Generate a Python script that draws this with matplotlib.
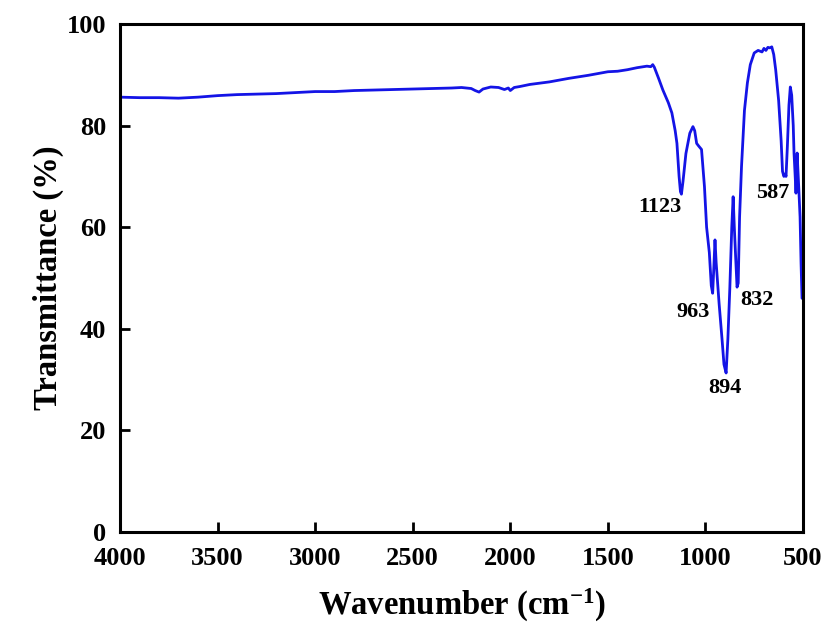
import matplotlib
matplotlib.use("Agg")
import matplotlib.pyplot as plt

plt.rcParams['font.family'] = ['Liberation Serif', 'DejaVu Serif']
plt.rcParams['font.weight'] = 'bold'
plt.rcParams['mathtext.fontset'] = 'custom'
plt.rcParams['mathtext.rm'] = 'Liberation Serif:bold'
plt.rcParams['mathtext.it'] = 'Liberation Serif:bold'
plt.rcParams['mathtext.bf'] = 'Liberation Serif:bold'

wavenumber = [4000, 3900, 3800, 3700, 3600, 3500, 3400, 3300, 3200, 3100, 3000, 2900, 2800, 2700,
              2600, 2500, 2400, 2300, 2250, 2200, 2180, 2160, 2140, 2100, 2060, 2030, 2010, 2000,
              1980, 1950, 1900, 1800, 1700, 1600, 1500, 1450, 1400, 1350, 1300, 1280, 1270, 1262,
              1240, 1218, 1190, 1172, 1155, 1146, 1135, 1128, 1123, 1115, 1100, 1080, 1064, 1055,
              1045, 1035, 1020, 1005, 994, 980, 970, 963, 957, 951, 945, 930, 915, 905, 894, 885,
              875, 865, 858, 852, 845, 838, 832, 825, 815, 800, 785, 770, 750, 730, 710, 700, 690,
              680, 670, 660, 650, 640, 625, 612, 605, 598, 590, 587, 580, 572, 565, 558, 550, 546,
              540, 536, 533, 530, 527, 522, 515, 510, 505, 502]
transmittance = [85.6, 85.5, 85.5, 85.4, 85.6, 85.9, 86.1, 86.2, 86.3, 86.5, 86.7, 86.7, 86.9, 87.0,
                 87.1, 87.2, 87.3, 87.4, 87.5, 87.3, 86.9, 86.6, 87.2, 87.6, 87.5, 87.1, 87.4, 86.9,
                 87.5, 87.7, 88.1, 88.6, 89.3, 89.9, 90.6, 90.7, 91.0, 91.4, 91.7, 91.6, 92.0, 91.5,
                 89.3, 87.0, 84.5, 82.5, 79.0, 76.5, 70.0, 67.0, 66.5, 69.0, 74.5, 78.5, 79.8, 79.0,
                 76.5, 76.0, 75.3, 68.0, 60.0, 55.0, 48.5, 47.0, 52.0, 57.5, 53.0, 45.0, 38.0, 33.0,
                 31.3, 38.0, 48.0, 60.0, 66.0, 60.0, 54.0, 48.2, 49.0, 62.0, 72.0, 83.0, 88.4, 92.0,
                 94.3, 94.8, 94.5, 95.2, 94.8, 95.4, 95.3, 95.5, 94.0, 91.0, 85.0, 77.0, 71.0, 70.0,
                 70.5, 70.0, 76.0, 84.0, 87.6, 86.0, 80.0, 74.6, 70.0, 66.7, 70.0, 74.6, 72.0, 68.0,
                 62.0, 53.0, 46.0, 46.0]

peak_labels = ["1123", "963", "894", "832", "587"]
peak_label_x = [1233, 1064, 900, 736, 654]
peak_label_y = [64.0, 43.3, 28.3, 45.7, 66.7]

xticks = [4000, 3500, 3000, 2500, 2000, 1500, 1000, 500]
yticks = [0, 20, 40, 60, 80, 100]

fig = plt.figure(figsize=(8.32, 6.3), dpi=100)
ax = fig.add_axes([120/832, 98/630, 683/832, 508/630])
ax.plot(wavenumber, transmittance, color='#1414e6', lw=2.0)
ax.set_xlim(4000, 500)
ax.set_ylim(0, 100)
ax.set_xticks(xticks)
ax.set_yticks(yticks)
for s in ax.spines.values():
    s.set_linewidth(2.2)
ax.tick_params(direction='in', length=7, width=2, labelsize=19)
ax.tick_params(axis='x', pad=11)
ax.tick_params(axis='y', pad=10)
for lab in ax.get_xticklabels() + ax.get_yticklabels():
    lab.set_fontweight('bold')

for t, x, y in zip(peak_labels, peak_label_x, peak_label_y):
    ax.text(x, y, t, ha='center', va='center', fontsize=16, fontweight='bold')

ax.set_xlabel(r'Wavenumber (cm$^{-1}$)', fontsize=23.5, fontweight='bold', labelpad=12)
ax.set_ylabel('Transmittance (%)', fontsize=23.5, fontweight='bold', labelpad=2)

fig.savefig('out.png', dpi=100)
